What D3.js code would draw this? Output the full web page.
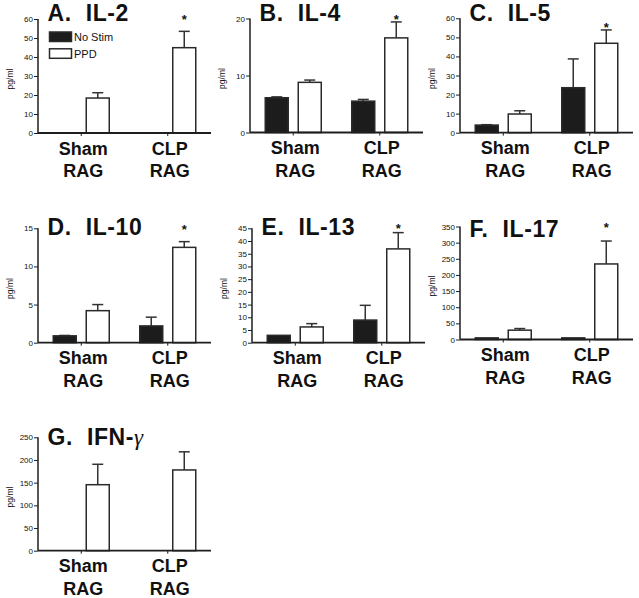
<!DOCTYPE html>
<html><head><meta charset="utf-8">
<script src="https://cdn.jsdelivr.net/npm/d3@7"></script>
<style>
html,body{margin:0;padding:0;background:#fff;}
svg{display:block;font-family:"Liberation Sans",Arial,Helvetica,sans-serif;}
</style></head>
<body>
<svg id="chart" width="639" height="598"></svg>
<script>
// ---------- DATA ----------
const groups = ["Sham|RAG", "CLP|RAG"];
const series = ["No Stim", "PPD"];
const titles = ["A.", "B.", "C.", "D.", "E.", "F.", "G."];
const cytokines = ["IL-2", "IL-4", "IL-5", "IL-10", "IL-13", "IL-17", "IFN-γ"];
const yMaxes = [60, 20, 60, 15, 45, 350, 250];
const yTickSteps = [10, 10, 10, 5, 5, 50, 50];
const noStimValues = [[0, 0], [6.1, 5.5], [4.0, 23.6], [0.9, 2.2], [2.9, 8.9], [5, 5], [0, 0]];
const noStimErrors = [[0, 0], [0.15, 0.3], [0.2, 15.1], [0.05, 1.15], [0, 5.8], [0, 0], [0, 0]];
const ppdValues = [[18.4, 44.9], [8.8, 16.6], [9.8, 46.9], [4.2, 12.5], [6.2, 36.9], [28.9, 234], [145.5, 178]];
const ppdErrors = [[2.8, 8.6], [0.4, 2.8], [1.7, 7.0], [0.8, 0.75], [1.3, 6.4], [5, 71], [45, 40]];
const significance = [61, 20.3, 56.5, 15.2, 45.9, 355, null]; // level of "*" above CLP PPD bar
const yLabel = "pg/ml";

// ---------- LAYOUT ----------
const origins = [[38, 133], [250, 132.5], [460, 132.7], [38, 342.7], [252, 342.7], [460, 339.5], [38, 550.7]];
const heights = [114, 114, 114.4, 114.4, 114.4, 113, 113.4];
const titleBaselines = [20.7, 20.5, 20.7, 235, 235, 236.5, 445];
const plotW = 173;

const svg = d3.select("#chart");
const ink = "#1e1e1e";

titles.forEach((t, i) => {
  const [ax, y0] = origins[i];
  const h = heights[i];
  const g = svg.append("g").attr("transform", `translate(${ax},${y0 - h})`);

  const y = d3.scaleLinear().domain([0, yMaxes[i]]).range([h, 0]);
  const x0 = d3.scaleBand().domain(groups).range([0, plotW]).padding(0);
  const x1 = d3.scaleBand().domain(series).range([0, x0.bandwidth()]).paddingInner(0.303).paddingOuter(0.462);

  // bars
  const rows = groups.map((gr, gi) => ({
    group: gr,
    bars: [
      {s: series[0], v: noStimValues[i][gi], e: noStimErrors[i][gi]},
      {s: series[1], v: ppdValues[i][gi], e: ppdErrors[i][gi]}
    ]
  }));
  const gg = g.selectAll(".grp").data(rows).enter().append("g")
    .attr("transform", d => `translate(${x0(d.group)},0)`);
  const bar = gg.selectAll(".bar").data(d => d.bars).enter().append("g");
  // error bars (drawn first, above bar)
  bar.filter(d => d.e > 0).append("line")
    .attr("x1", d => x1(d.s) + x1.bandwidth() / 2).attr("x2", d => x1(d.s) + x1.bandwidth() / 2)
    .attr("y1", d => y(d.v)).attr("y2", d => y(d.v + d.e))
    .attr("stroke", "#333").attr("stroke-width", 1.5);
  bar.filter(d => d.e > 0).append("line")
    .attr("x1", d => x1(d.s) + x1.bandwidth() / 2 - 5.5).attr("x2", d => x1(d.s) + x1.bandwidth() / 2 + 5.5)
    .attr("y1", d => y(d.v + d.e)).attr("y2", d => y(d.v + d.e))
    .attr("stroke", "#333").attr("stroke-width", 1.5);
  bar.filter(d => d.v > 0).append("rect")
    .attr("x", d => x1(d.s)).attr("width", x1.bandwidth())
    .attr("y", d => y(d.v)).attr("height", d => h - y(d.v))
    .attr("fill", d => d.s === series[0] ? "#1c1c1c" : "#fff")
    .attr("stroke", "#2a2a2a").attr("stroke-width", 1.5);

  // y axis
  const ticks = d3.range(0, yMaxes[i] + 0.001, yTickSteps[i]);
  const yAx = g.append("g").call(d3.axisLeft(y).tickValues(ticks).tickSize(4).tickPadding(1).tickFormat(d3.format("d")));
  yAx.select(".domain").attr("stroke", ink).attr("stroke-width", 1.5).attr("d", `M0,${h}V0`);
  yAx.selectAll(".tick line").attr("stroke", ink).attr("stroke-width", 1);
  yAx.selectAll(".tick text").attr("font-size", 8).attr("fill", "#111")
    .attr("font-family", '"Liberation Sans",Arial,sans-serif');

  // x axis
  const xAx = g.append("g").attr("transform", `translate(0,${h})`)
    .call(d3.axisBottom(x0).tickSize(3).tickFormat(""));
  xAx.select(".domain").attr("stroke", ink).attr("stroke-width", 1.8).attr("d", `M0,0H${plotW}`);
  xAx.selectAll(".tick line").attr("stroke", ink).attr("stroke-width", 1);
  groups.forEach(gr => {
    const cx = x0(gr) + x0.bandwidth() / 2 + 2;
    const parts = gr.split("|");
    parts.forEach((p, k) => {
      g.append("text").attr("x", cx).attr("y", h + 21.5 + k * 22.5)
        .attr("text-anchor", "middle").attr("font-size", 18).attr("font-weight", "bold")
        .attr("fill", "#111").text(p);
    });
  });

  // y label
  g.append("text").attr("transform", `translate(${-27},${h / 2 + 3}) rotate(-90)`)
    .attr("text-anchor", "middle").attr("dominant-baseline", "middle")
    .attr("font-size", 8.5).attr("fill", "#111").text(yLabel);

  // title
  const tt = svg.append("text").attr("x", ax + 9.5).attr("y", titleBaselines[i])
    .attr("font-size", 23).attr("font-weight", "bold").attr("fill", "#111")
    .attr("letter-spacing", 0.6).style("white-space", "pre");
  tt.append("tspan").text(t + "  ");
  const cyto = cytokines[i];
  if (cyto.endsWith("γ")) {
    tt.append("tspan").text(cyto.slice(0, -1));
    tt.append("tspan").attr("font-family", '"Liberation Serif","DejaVu Serif",serif')
      .attr("font-weight", "normal").attr("font-style", "italic").text("γ");
  } else {
    tt.append("tspan").text(cyto);
  }

  // significance star
  if (significance[i] != null) {
    const cx = x0(groups[1]) + x1(series[1]) + x1.bandwidth() / 2;
    g.append("text").attr("x", cx).attr("y", y(significance[i]) + 7)
      .attr("text-anchor", "middle").attr("font-size", 13).attr("font-weight", "bold")
      .attr("fill", "#111").text("*");
  }

  // legend in first panel
  if (i === 0) {
    series.forEach((s, k) => {
      const ly = 32 + k * 16.8;
      svg.append("rect").attr("x", ax + 11.5).attr("y", ly).attr("width", 22).attr("height", 9.5)
        .attr("fill", k === 0 ? "#1c1c1c" : "#fff").attr("stroke", "#2a2a2a").attr("stroke-width", 1.5);
      svg.append("text").attr("x", ax + 36).attr("y", ly + 9).attr("font-size", 11)
        .attr("fill", "#111").text(s);
    });
  }
});
</script>
</body></html>
